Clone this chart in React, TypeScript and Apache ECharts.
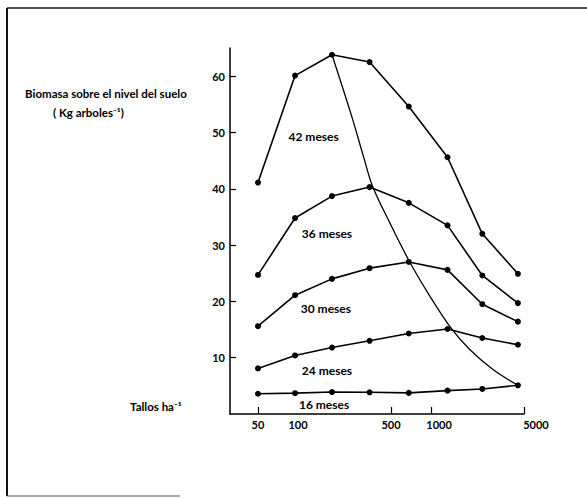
import React, { useEffect, useRef } from "react";
import * as echarts from "echarts";

// Stems per hectare (x, log scale)
const stems = [50, 95, 180, 345, 680, 1330, 2430, 4500];
// Above-ground biomass (kg per tree)
const m42 = [41.1, 60.1, 63.8, 62.5, 54.6, 45.6, 32.0, 24.9];
const m36 = [24.7, 34.8, 38.7, 40.3, 37.5, 33.5, 24.6, 19.7];
const m30 = [15.6, 21.1, 24.0, 25.9, 27.0, 25.6, 19.5, 16.4];
const m24 = [8.1, 10.4, 11.8, 13.0, 14.3, 15.1, 13.5, 12.3];
const m16 = [3.6, 3.7, 3.9, 3.85, 3.75, 4.15, 4.45, 5.1];
const seriesNames = ["42 meses", "36 meses", "30 meses", "24 meses", "16 meses"];
// Where each series name is written (data coordinates)
const labelStems = [131, 165, 162, 165, 157];
const labelBiomass = [49.3, 32.0, 18.8, 7.7, 1.65];
// Envelope curve through the maxima
const envStems = [180, 253, 310, 364, 491, 695, 982, 1429, 1963, 2939, 4500];
const envBiomass = [63.8, 52.9, 45.8, 40.4, 33.9, 26.9, 20.9, 15.1, 11.4, 7.85, 5.1];
// Axis ticks
const xTickLabels = [50, 100, 500, 1000, 5000];
const xTickMarks = [50, 500, 1000, 5000];
const yTicks = [10, 20, 30, 40, 50, 60];

const lg = Math.log10;

export default function App() {
  const ref = useRef<HTMLDivElement>(null);
  useEffect(() => {
    const chart = echarts.init(ref.current!, null, { renderer: "svg" });
    const font = "Lato";
    const all = [m42, m36, m30, m24, m16];
    const series: any[] = all.map((vals, i) => ({
      type: "line",
      name: seriesNames[i],
      data: stems.map((s, j) => [lg(s), vals[j]]),
      symbol: "circle",
      symbolSize: 6,
      lineStyle: { color: "#000", width: 1.6 },
      itemStyle: { color: "#000" },
      markPoint: {
        symbol: "circle",
        symbolSize: 0,
        data: [{ coord: [lg(labelStems[i]), labelBiomass[i]], value: seriesNames[i] }],
        label: {
          show: true,
          position: "inside",
          formatter: seriesNames[i],
          color: "#000",
          fontFamily: font,
          fontSize: 12,
          fontWeight: "bold",
        },
      },
    }));
    series.push({
      type: "line",
      name: "máximo",
      data: envStems.map((s, j) => [lg(s), envBiomass[j]]),
      smooth: 0.35,
      symbol: "none",
      lineStyle: { color: "#000", width: 1.3 },
    });

    const txt = { fontFamily: font, fontSize: 11.5, fontWeight: "bold", fill: "#000", verticalAlign: "middle" };

    chart.setOption({
      animation: false,
      grid: { left: 230, right: 63, top: 48, bottom: 84 },
      xAxis: {
        type: "value",
        min: 1.4885,
        max: lg(5000),
        axisLine: { show: true, lineStyle: { color: "#000", width: 1.5 } },
        axisTick: {
          show: true,
          inside: true,
          length: 7,
          customValues: xTickMarks.map(lg),
          lineStyle: { color: "#000", width: 1.2 },
        },
        axisLabel: {
          customValues: xTickLabels.map(lg),
          margin: 5,
          formatter: (v: number) => {
            const n = Math.round(Math.pow(10, v));
            if (n === 1000) return "{a|" + n + "}";
            if (n === 5000) return "{b|" + n + "}";
            return "{n|" + n + "}";
          },
          rich: {
            n: { fontFamily: font, fontSize: 11, color: "#000", fontWeight: "bold" },
            a: { fontFamily: font, fontSize: 11, color: "#000", fontWeight: "bold", padding: [0, 0, 0, 16] },
            b: { fontFamily: font, fontSize: 11, color: "#000", fontWeight: "bold", padding: [0, 0, 0, 24] },
          },
        },
        splitLine: { show: false },
      },
      yAxis: {
        type: "value",
        min: 0,
        max: 65,
        axisLine: { show: true, lineStyle: { color: "#000", width: 1.5 } },
        axisTick: {
          show: true,
          inside: true,
          length: 6,
          customValues: yTicks,
          lineStyle: { color: "#000", width: 1.2 },
        },
        axisLabel: {
          customValues: yTicks,
          margin: 5,
          fontFamily: font,
          fontSize: 11,
          fontWeight: "bold",
          color: "#000",
        },
        splitLine: { show: false },
      },
      graphic: [
        { type: "line", shape: { x1: 7, y1: 8, x2: 587, y2: 8 }, style: { stroke: "#111", lineWidth: 1.6 } },
        { type: "line", shape: { x1: 7, y1: 8, x2: 7, y2: 496 }, style: { stroke: "#111", lineWidth: 2 } },
        { type: "line", shape: { x1: 7, y1: 496, x2: 180, y2: 496 }, style: { stroke: "#555", lineWidth: 1.2 } },
        { type: "text", x: 25, y: 93, style: { ...txt, text: "Biomasa sobre el nivel del suelo" } },
        { type: "text", x: 53, y: 112, style: { ...txt, text: "( Kg arboles⁻¹)" } },
        { type: "text", x: 130, y: 406, style: { ...txt, text: "Tallos ha⁻¹" } },
      ],
      series,
    });
    return () => chart.dispose();
  }, []);
  return (
    <div
      ref={ref}
      style={{ position: "absolute", left: 0, top: 0, width: 587, height: 498, background: "#fff" }}
    />
  );
}
